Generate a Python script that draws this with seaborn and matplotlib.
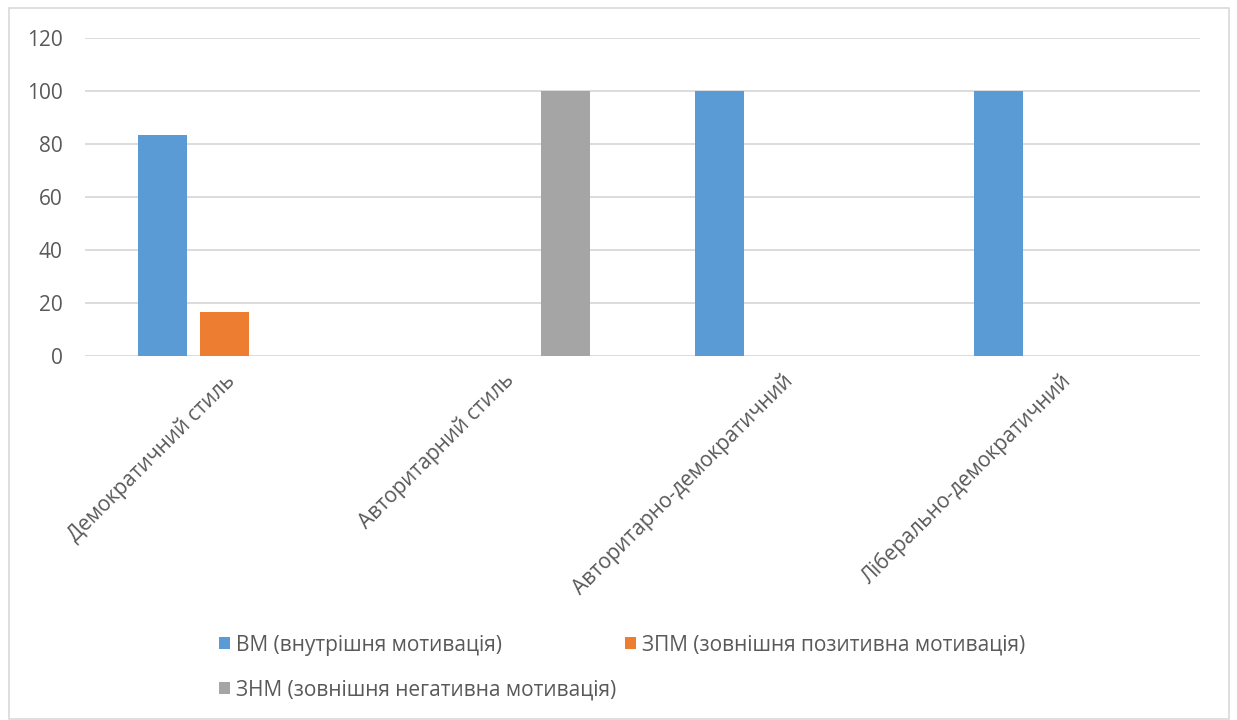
import pandas as pd
import numpy as np
import matplotlib.pyplot as plt
import matplotlib.patches as mpatches
import seaborn as sns

# Chart data
categories = ['Демократичний стиль', 'Авторитарний стиль',
              'Авторитарно-демократичний', 'Ліберально-демократичний']
series = ['ВМ (внутрішня мотивація)', 'ЗПМ (зовнішня позитивна мотивація)',
          'ЗНМ (зовнішня негативна мотивація)']
vm = [83.3, 0, 100, 100]
zpm = [16.7, 0, 0, 0]
znm = [0, 100, 0, 0]

colors = ['#5B9BD5', '#ED7D31', '#A5A5A5']
text_color = '#595959'

df = pd.DataFrame({
    'category': categories * 3,
    'series': [series[0]] * 4 + [series[1]] * 4 + [series[2]] * 4,
    'value': vm + zpm + znm,
})

sns.set_style('white')
plt.rcParams['font.family'] = ['Open Sans', 'DejaVu Sans']

fig = plt.figure(figsize=(12.37, 7.2), dpi=100)
ax = fig.add_axes([85 / 1237, 1 - 356 / 720, 1115 / 1237, 318 / 720])

sns.barplot(data=df, x='category', y='value', hue='series', hue_order=series,
            order=categories, palette=colors, saturation=1, width=0.667, gap=0.21,
            linewidth=0, ax=ax, legend=False, zorder=3)

ax.set_ylim(0, 120)
ax.set_xlim(-0.5, 3.5)
ax.set_yticks(range(0, 121, 20))
ax.yaxis.grid(True, color='#D9D9D9', linewidth=1.3, zorder=0)
ax.xaxis.grid(False)
ax.set_axisbelow(True)
for s in ax.spines.values():
    s.set_visible(False)
ax.tick_params(axis='both', length=0, colors=text_color, labelsize=15)
ax.tick_params(axis='y', pad=16)
ax.set_xlabel('')
ax.set_ylabel('')
ax.set_xticks(range(len(categories)))
ax.set_xticklabels(categories, rotation=45, ha='right', rotation_mode='anchor',
                   color=text_color, fontsize=15)
ax.tick_params(axis='x', pad=10)

# legend entries laid out like the source (two per row)
legend_pos = [(222, 645), (628, 645), (222, 690)]
for name, col, (px, py) in zip(series, colors, legend_pos):
    h = mpatches.Patch(facecolor=col, edgecolor='none')
    fig.legend(handles=[h], labels=[name], loc='center left',
               bbox_to_anchor=(px / 1237 - 0.014, 1 - py / 720),
               frameon=False, fontsize=15, labelcolor=text_color,
               handlelength=0.5, handleheight=0.5, handletextpad=0.3,
               borderpad=0.2)

# outer chart border
fig.patches.append(mpatches.Rectangle((9 / 1237, 0.002), 1220 / 1237, 1 - 8 / 720 - 0.002,
                                      transform=fig.transFigure, fill=False,
                                      edgecolor='#D9D9D9', linewidth=1.2))

fig.savefig('out.png', dpi=100, facecolor='white')
